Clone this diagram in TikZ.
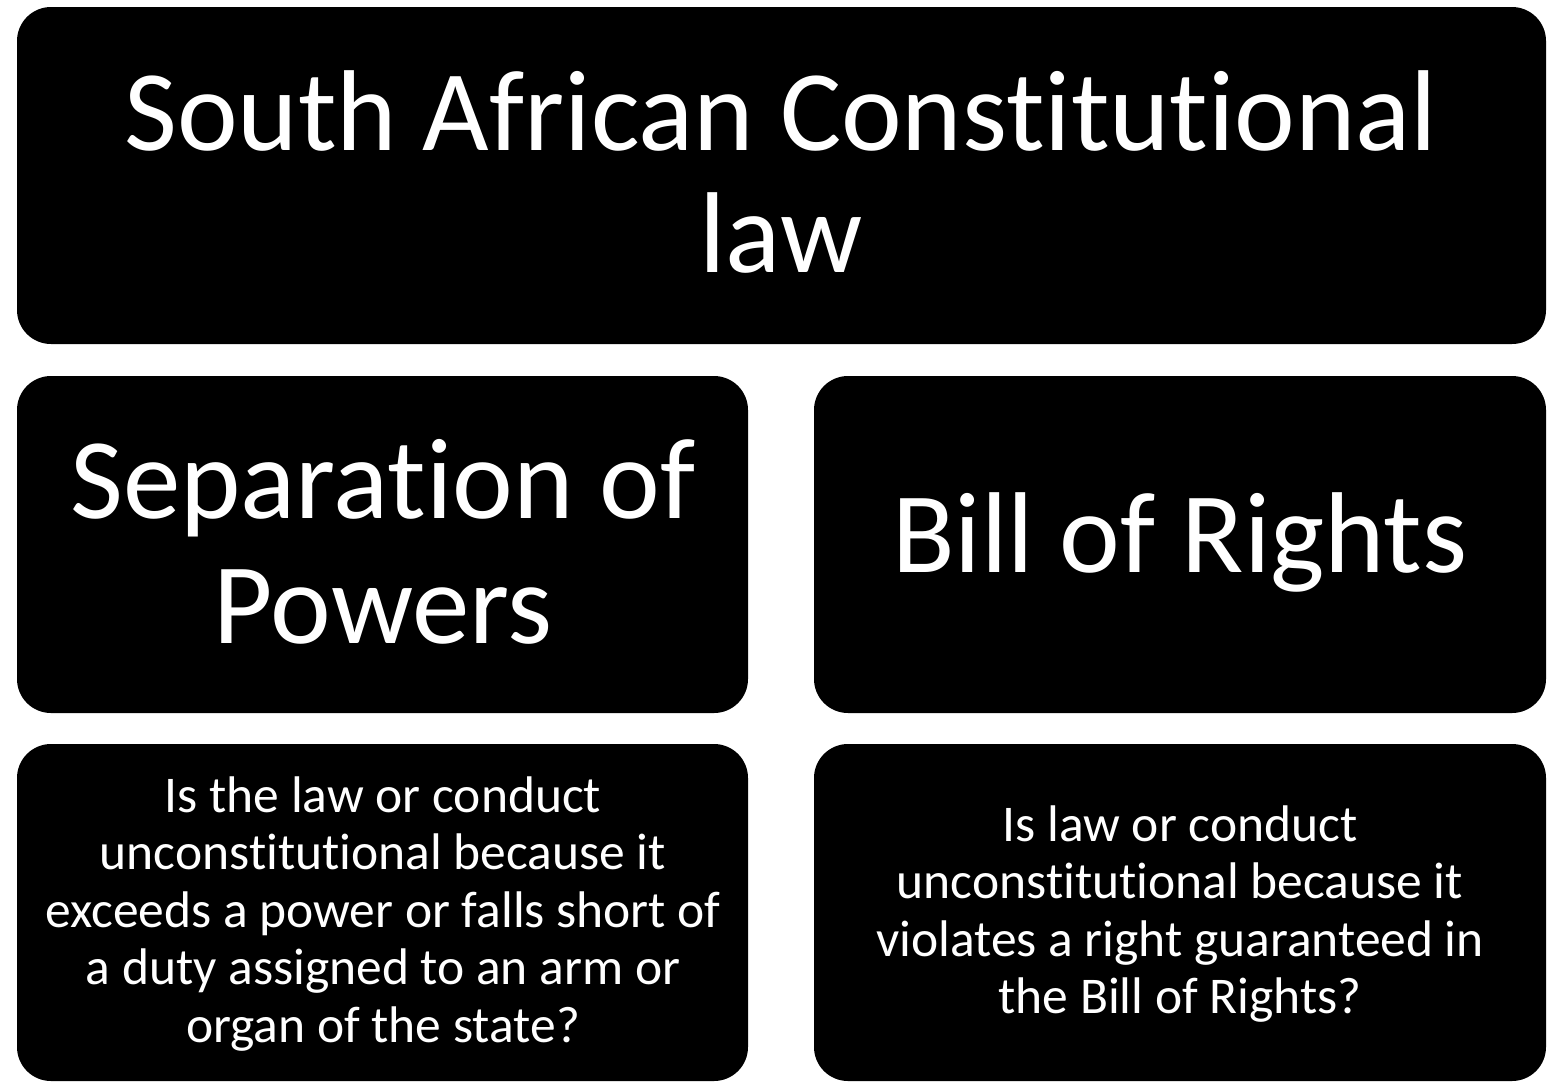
\documentclass[tikz,border=0pt]{standalone}
\usepackage{fontspec}
\setmainfont[Ligatures={NoCommon,NoRare,NoContextual}]{Carlito}
\begin{document}
\begin{tikzpicture}[x=1pt,y=-1pt,
  blk/.style={fill=black,rounded corners=34pt,draw=none},
  lbl/.style={text=white,align=center,inner sep=0pt}]
\useasboundingbox (0,0) rectangle (1548,1088);
\fill[white] (0,0) rectangle (1548,1088);
\path[blk] (17,7) rectangle (1546,344);
\path[blk] (17,376) rectangle (748,713);
\path[blk] (814,376) rectangle (1546,713);
\path[blk] (17,744) rectangle (748,1081);
\path[blk] (814,744) rectangle (1546,1081);
\node[lbl,font=\fontsize{115}{122}\selectfont] (title) at (781,172) {South African Constitutional\\law};
\node[lbl,font=\fontsize{115}{125}\selectfont] (sep) at (383,542) {Separation of\\Powers};
\node[lbl,font=\fontsize{115}{125}\selectfont] (bor) at (1180,542) {Bill of Rights};
\node[lbl,font=\fontsize{51.5}{57.5}\selectfont] (q1) at (383,914) {Is the law or conduct\\unconstitutional because it\\exceeds a power or falls short of\\a duty assigned to an arm or\\organ of the state?};
\node[lbl,font=\fontsize{51.5}{57.5}\selectfont] (q2) at (1180,914) {Is law or conduct\\unconstitutional because it\\violates a right guaranteed in\\the Bill of Rights?};
\end{tikzpicture}
\end{document}
